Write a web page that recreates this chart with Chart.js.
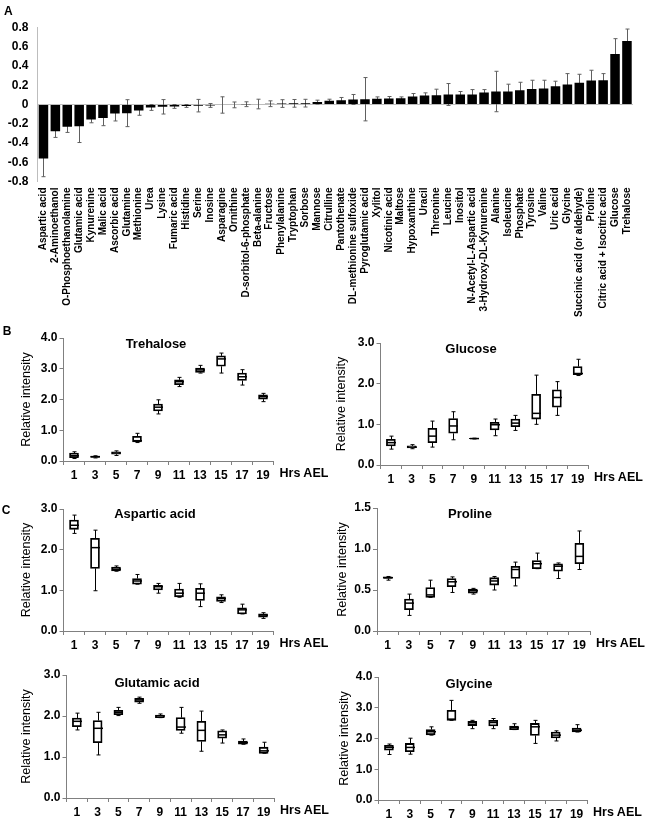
<!DOCTYPE html>
<html>
<head>
<meta charset="utf-8">
<script src="https://cdn.jsdelivr.net/npm/chart.js@4.4.1/dist/chart.umd.min.js"></script>
<style>
  body { margin: 0; background: #fff; width: 645px; height: 819px; position: relative; overflow: hidden; font-family: "Liberation Sans", Arial, sans-serif; }
  canvas { position: absolute; }
  .txt { position: absolute; font-weight: bold; color: #000; white-space: nowrap; line-height: 1; }
</style>
</head>
<body>
<canvas id="chart-a" width="645" height="330" style="left:0;top:0"></canvas>
<script>
// Panel A: fold change per metabolite (mean +/- error)
const metabolites = ['Aspartic acid', '2-Aminoethanol', 'O-Phosphoethanolamine', 'Glutamic acid', 'Kynurenine', 'Malic acid',
  'Ascorbic acid', 'Glutamine', 'Methionine', 'Urea', 'Lysine', 'Fumaric acid', 'Histidine', 'Serine', 'Inosine', 'Asparagine',
  'Ornithine', 'D-sorbitol-6-phosphate', 'Beta-alanine', 'Fructose', 'Phenylalanine', 'Tryptophan', 'Sorbose', 'Mannose',
  'Citrulline', 'Pantothenate', 'DL-methionine sulfoxide', 'Pyroglutamic acid', 'Xylitol', 'Nicotinic acid', 'Maltose',
  'Hypoxanthine', 'Uracil', 'Threonine', 'Leucine', 'Inositol', 'N-Acetyl-L-Aspartic acid', '3-Hydroxy-DL-Kynurenine',
  'Alanine', 'Isoleucine', 'Phosphate', 'Tyrosine', 'Valine', 'Uric acid', 'Glycine', 'Succinic acid (or aldehyde)', 'Proline',
  'Citric acid + Isocitric acid', 'Glucose', 'Trehalose'];
const foldChange = [-0.56, -0.277, -0.23, -0.225, -0.155, -0.14, -0.094, -0.09, -0.062, -0.031, -0.024, -0.02, -0.015, -0.012,
  -0.01, -0.005, -0.004, 0.003, 0.005, 0.008, 0.01, 0.012, 0.014, 0.025, 0.038, 0.045, 0.052, 0.055, 0.059, 0.062, 0.066, 0.083,
  0.093, 0.097, 0.104, 0.104, 0.104, 0.124, 0.135, 0.135, 0.149, 0.162, 0.166, 0.19, 0.207, 0.225, 0.249, 0.252, 0.525, 0.66];
const foldError = [0.19, 0.065, 0.06, 0.17, 0.035, 0.08, 0.077, 0.14, 0.05, 0.03, 0.075, 0.02, 0.015, 0.065, 0.02, 0.085,
  0.03, 0.025, 0.05, 0.03, 0.04, 0.04, 0.04, 0.02, 0.017, 0.028, 0.052, 0.225, 0.02, 0.021, 0.013, 0.031, 0.028, 0.062, 0.114,
  0.031, 0.051, 0.031, 0.21, 0.076, 0.082, 0.09, 0.086, 0.052, 0.114, 0.089, 0.107, 0.069, 0.159, 0.124];

// Panels B, C: time course box plots
const hours = ['1', '3', '5', '7', '9', '11', '13', '15', '17', '19'];

const treMin = [0.08, 0.10, 0.18, 0.60, 1.53, 2.42, 2.86, 2.86, 2.47, 1.93];
const treQ1  = [0.11, 0.12, 0.22, 0.62, 1.63, 2.48, 2.88, 3.08, 2.62, 2.01];
const treMed = [0.17, 0.14, 0.26, 0.66, 1.75, 2.58, 2.96, 3.32, 2.74, 2.09];
const treQ3  = [0.26, 0.16, 0.30, 0.80, 1.85, 2.64, 3.02, 3.42, 2.86, 2.15];
const treMax = [0.30, 0.17, 0.33, 0.90, 1.99, 2.72, 3.11, 3.51, 2.97, 2.20];

const gluMin = [0.39, 0.40, 0.44, 0.62, 0.64, 0.72, 0.85, 1.00, 1.22, 2.20];
const gluQ1  = [0.47, 0.42, 0.55, 0.78, 0.645, 0.86, 0.94, 1.13, 1.42, 2.22];
const gluMed = [0.55, 0.44, 0.71, 0.96, 0.65, 0.99, 1.03, 1.27, 1.66, 2.25];
const gluQ3  = [0.63, 0.47, 0.90, 1.14, 0.655, 1.05, 1.13, 1.74, 1.85, 2.42];
const gluMax = [0.71, 0.50, 1.08, 1.31, 0.66, 1.13, 1.22, 2.21, 2.05, 2.60];

const aspMin = [2.40, 0.99, 1.47, 1.15, 0.93, 0.83, 0.60, 0.70, 0.42, 0.31];
const aspQ1  = [2.50, 1.54, 1.48, 1.15, 1.01, 0.84, 0.75, 0.73, 0.42, 0.34];
const aspMed = [2.60, 2.05, 1.52, 1.23, 1.09, 0.93, 0.93, 0.80, 0.52, 0.39];
const aspQ3  = [2.73, 2.28, 1.57, 1.29, 1.12, 1.03, 1.05, 0.84, 0.57, 0.42];
const aspMax = [2.85, 2.48, 1.60, 1.39, 1.17, 1.17, 1.16, 0.89, 0.66, 0.45];

const proMin = [0.62, 0.19, 0.41, 0.47, 0.45, 0.50, 0.55, 0.76, 0.64, 0.75];
const proQ1  = [0.64, 0.26, 0.41, 0.54, 0.46, 0.56, 0.64, 0.76, 0.73, 0.82];
const proMed = [0.65, 0.34, 0.44, 0.60, 0.49, 0.61, 0.75, 0.82, 0.79, 0.91];
const proQ3  = [0.66, 0.39, 0.53, 0.64, 0.51, 0.65, 0.79, 0.86, 0.82, 1.07];
const proMax = [0.665, 0.45, 0.62, 0.66, 0.52, 0.665, 0.84, 0.95, 0.83, 1.22];

const gltMin = [1.66, 1.05, 2.01, 2.31, 1.96, 1.58, 1.14, 1.34, 1.31, 1.09];
const gltQ1  = [1.74, 1.35, 2.03, 2.34, 1.96, 1.65, 1.38, 1.46, 1.31, 1.09];
const gltMed = [1.87, 1.70, 2.09, 2.39, 2.00, 1.73, 1.65, 1.54, 1.35, 1.15];
const gltQ3  = [1.95, 1.89, 2.14, 2.43, 2.02, 1.96, 1.87, 1.64, 1.39, 1.24];
const gltMax = [2.07, 2.09, 2.21, 2.46, 2.05, 2.21, 2.12, 1.66, 1.44, 1.36];

const glyMin = [1.48, 1.49, 2.11, 2.59, 2.32, 2.32, 2.29, 1.84, 1.92, 2.21];
const glyQ1  = [1.62, 1.57, 2.12, 2.59, 2.42, 2.41, 2.29, 2.10, 2.02, 2.21];
const glyMed = [1.71, 1.71, 2.22, 2.63, 2.51, 2.52, 2.35, 2.38, 2.11, 2.27];
const glyQ3  = [1.78, 1.84, 2.29, 2.92, 2.56, 2.59, 2.40, 2.49, 2.21, 2.34];
const glyMax = [1.82, 2.01, 2.38, 3.24, 2.59, 2.65, 2.48, 2.59, 2.25, 2.45];

const FONT = '"Liberation Sans", Arial, sans-serif';
Chart.defaults.font.family = FONT;
Chart.defaults.color = '#000';

const boxPanels = [
  { title: 'Trehalose', ymax: 4, step: 1, stats: [treMin, treQ1, treMed, treQ3, treMax],
    layout: { col: 0, axisX: 63.5, top: 338, bottom: 461, right: 273.5, yTitleX: 27, titleX: 156, titleY: 343 } },
  { title: 'Glucose', ymax: 3, step: 1, stats: [gluMin, gluQ1, gluMed, gluQ3, gluMax],
    layout: { col: 1, axisX: 380.5, top: 343, bottom: 465, right: 588, yTitleX: 342, titleX: 471, titleY: 348 } },
  { title: 'Aspartic acid', ymax: 3, step: 1, stats: [aspMin, aspQ1, aspMed, aspQ3, aspMax],
    layout: { col: 0, axisX: 63.5, top: 509, bottom: 631, right: 273.5, yTitleX: 27, titleX: 155, titleY: 513 } },
  { title: 'Proline', ymax: 1.5, step: 0.5, stats: [proMin, proQ1, proMed, proQ3, proMax],
    layout: { col: 1, axisX: 377, top: 508, bottom: 631, right: 590, yTitleX: 343, titleX: 470, titleY: 513 } },
  { title: 'Glutamic acid', ymax: 3, step: 1, stats: [gltMin, gltQ1, gltMed, gltQ3, gltMax],
    layout: { col: 0, axisX: 66.5, top: 675, bottom: 798, right: 274, yTitleX: 27, titleX: 157, titleY: 682 } },
  { title: 'Glycine', ymax: 4, step: 1, stats: [glyMin, glyQ1, glyMed, glyQ3, glyMax],
    layout: { col: 1, axisX: 378.5, top: 677, bottom: 800, right: 587, yTitleX: 345, titleX: 469, titleY: 683 } },
];

const isZero = v => Math.abs(v) < 1e-9;

// error bars drawn under the bars, so only the outer half shows
const errorBars = {
  id: 'errorBars',
  beforeDatasetsDraw(chart) {
    const { ctx, scales: { x, y } } = chart;
    ctx.save();
    ctx.strokeStyle = '#606060';
    ctx.lineWidth = 1;
    foldChange.forEach((v, i) => {
      const cx = Math.round(x.getPixelForValue(i)) + 0.5;
      const hi = y.getPixelForValue(v + foldError[i]);
      const lo = y.getPixelForValue(v - foldError[i]);
      ctx.beginPath();
      ctx.moveTo(cx, hi); ctx.lineTo(cx, lo);
      ctx.moveTo(cx - 2, hi); ctx.lineTo(cx + 2, hi);
      ctx.moveTo(cx - 2, lo); ctx.lineTo(cx + 2, lo);
      ctx.stroke();
    });
    ctx.restore();
  }
};

// whiskers + median on top of the floating q1..q3 bars
const boxWhiskers = {
  id: 'boxWhiskers',
  afterDatasetsDraw(chart, args, opts) {
    const { ctx, scales: { x, y } } = chart;
    ctx.save();
    ctx.strokeStyle = '#000';
    opts.med.forEach((m, i) => {
      const cx = Math.round(x.getPixelForValue(i)) + 0.5;
      const yMax = y.getPixelForValue(opts.maxs[i]);
      const yMin = y.getPixelForValue(opts.mins[i]);
      const yQ3 = y.getPixelForValue(opts.q3[i]);
      const yQ1 = y.getPixelForValue(opts.q1[i]);
      ctx.lineWidth = 1;
      ctx.beginPath();
      ctx.moveTo(cx, yQ3); ctx.lineTo(cx, yMax);
      ctx.moveTo(cx - 2, yMax); ctx.lineTo(cx + 2, yMax);
      ctx.moveTo(cx, yQ1); ctx.lineTo(cx, yMin);
      ctx.moveTo(cx - 2, yMin); ctx.lineTo(cx + 2, yMin);
      ctx.stroke();
      ctx.lineWidth = 1.5;
      const ym = y.getPixelForValue(m);
      ctx.beginPath();
      ctx.moveTo(cx - 4.5, ym); ctx.lineTo(cx + 4.5, ym);
      ctx.stroke();
    });
    ctx.restore();
  }
};

function addText(text, x, y, size, center) {
  const el = document.createElement('div');
  el.className = 'txt';
  el.textContent = text;
  el.style.fontSize = size + 'px';
  el.style.left = x + 'px';
  el.style.top = y + 'px';
  if (center) el.style.transform = 'translate(-50%, -50%)';
  document.body.appendChild(el);
}

function renderFoldChart() {
  new Chart(document.getElementById('chart-a'), {
    type: 'bar',
    data: {
      labels: metabolites,
      datasets: [{ data: foldChange, backgroundColor: '#000', barPercentage: 0.8, categoryPercentage: 1 }]
    },
    options: {
      responsive: false,
      animation: false,
      layout: { padding: { top: 27.5, right: 5.5, left: 0, bottom: 0 } },
      plugins: { legend: { display: false }, tooltip: { enabled: false } },
      scales: {
        x: {
          grid: { display: false, drawTicks: false },
          border: { display: false },
          ticks: { autoSkip: false, minRotation: 90, maxRotation: 90, padding: 6, font: { size: 10, weight: 'bold' } },
          afterFit: s => { s.height = 148.5; }
        },
        y: {
          min: -0.8, max: 0.8,
          ticks: { stepSize: 0.2, padding: 9, font: { size: 12, weight: 'bold' }, callback: v => isZero(v) ? '0' : v.toFixed(1) },
          grid: { color: c => isZero(c.tick.value) ? '#bdbdbd' : 'rgba(0,0,0,0)', drawTicks: false },
          border: { color: '#bdbdbd' },
          afterFit: s => { s.width = 37.5; }
        }
      }
    },
    plugins: [errorBars]
  });
}

function renderBoxChart(panel) {
  const L = panel.layout;
  const canvasLeft = L.col === 0 ? 0 : 322;
  const canvasW = L.col === 0 ? 322 : 323;
  const canvasTop = L.top - 20;
  const canvasH = L.bottom - L.top + 55;
  const canvas = document.createElement('canvas');
  canvas.width = canvasW;
  canvas.height = canvasH;
  canvas.style.left = canvasLeft + 'px';
  canvas.style.top = canvasTop + 'px';
  document.body.appendChild(canvas);

  const [mins, q1, med, q3, maxs] = panel.stats;
  const scaleLeft = L.yTitleX - 7.5;

  new Chart(canvas, {
    type: 'bar',
    data: {
      labels: hours,
      datasets: [{
        data: q1.map((v, i) => [v, q3[i]]),
        backgroundColor: '#fff', borderColor: '#000', borderWidth: 1.8, borderSkipped: false, barThickness: 9
      }]
    },
    options: {
      responsive: false,
      animation: false,
      layout: { padding: { left: scaleLeft - canvasLeft, top: 20, right: canvasLeft + canvasW - L.right, bottom: 0 } },
      plugins: { legend: { display: false }, tooltip: { enabled: false }, boxWhiskers: { mins, q1, med, q3, maxs } },
      scales: {
        x: {
          grid: { display: true, drawOnChartArea: false, drawTicks: true, tickLength: 4, color: '#808080', offset: true },
          border: { color: '#808080' },
          ticks: { padding: 3.5, font: { size: 12, weight: 'bold' } },
          afterFit: s => { s.height = 35; }
        },
        y: {
          min: 0, max: panel.ymax,
          ticks: { stepSize: panel.step, padding: 2, font: { size: 12, weight: 'bold' }, callback: v => v.toFixed(1) },
          grid: { display: true, drawOnChartArea: false, drawTicks: true, tickLength: 4, color: '#808080' },
          border: { color: '#808080' },
          title: { display: true, text: 'Relative intensity', padding: 0, font: { size: 12.5 } },
          afterFit: s => { s.width = L.axisX - scaleLeft; }
        }
      }
    },
    plugins: [boxWhiskers]
  });

  addText(panel.title, L.titleX, L.titleY, 13, true);
  addText('Hrs AEL', L.right + 6, L.bottom + 6, 12.5, false);
}

renderFoldChart();
boxPanels.forEach(renderBoxChart);
addText('A', 4, 5, 12, false);
addText('B', 7, 331, 12, true);
addText('C', 6, 510, 12, true);
</script>
</body>
</html>
